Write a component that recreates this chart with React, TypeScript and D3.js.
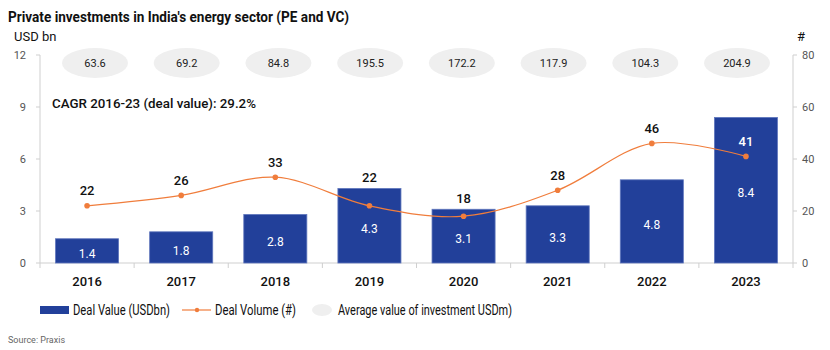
import React from 'react';
import * as d3 from 'd3';

const years = ['2016', '2017', '2018', '2019', '2020', '2021', '2022', '2023'];
const dealValue = [1.4, 1.8, 2.8, 4.3, 3.1, 3.3, 4.8, 8.4];
const dealVolume = [22, 26, 33, 22, 18, 28, 46, 41];
const avgValue = ['63.6', '69.2', '84.8', '195.5', '172.2', '117.9', '104.3', '204.9'];
const leftTicks = [0, 3, 6, 9, 12];
const rightTicks = [0, 20, 40, 60, 80];

const W = 830;
const H = 350;
const left = 40;
const right = 793;
const top = 55;
const bottom = 263;

const FONT = "'Roboto', sans-serif";

export default function App() {
  const x = d3.scaleBand().domain(years).range([left, right]).paddingInner(0.33).paddingOuter(0.165);
  const step = x.step();
  const yL = d3.scaleLinear().domain([0, 12]).range([bottom, top]);
  const yR = d3.scaleLinear().domain([0, 80]).range([bottom, top]);
  const xe = d3.scalePoint().domain(years).range([95, 737]);
  const cx = (d: string) => (x(d) as number) + x.bandwidth() / 2;

  const line = d3.line<number>()
    .x((_, i) => cx(years[i]))
    .y(v => yR(v))
    .curve(d3.curveCatmullRom.alpha(0.5));

  const boundaries = d3.range(years.length + 1).map(i => left + i * step);

  // keep volume labels clear of the bar tops
  const labelY = (i: number) => {
    const p = yR(dealVolume[i]) - 15;
    const barTop = yL(dealValue[i]);
    if (years[i] === '2023') return p;
    return Math.min(p, barTop - 11);
  };

  return (
    <svg width={W} height={H} style={{ position: 'absolute', left: 0, top: 0, fontFamily: FONT }}>
      <rect width={W} height={H} fill="#fff" />
      <text x={8} y={22} fontSize={15} fontWeight={700} fill="#111" textLength={341} lengthAdjust="spacingAndGlyphs">
        Private investments in India's energy sector (PE and VC)
      </text>
      <text x={14} y={41} fontSize={13} fill="#111">USD bn</text>
      <text x={797} y={41} fontSize={13} fill="#111">#</text>

      {/* ellipses: average value of investment */}
      {years.map((yr, i) => (
        <g key={'e' + yr}>
          <ellipse cx={xe(yr)} cy={63} rx={33} ry={15} fill="#efefef" />
          <text x={xe(yr)} y={63} dy="0.35em" textAnchor="middle" fontSize={11} fill="#222">{avgValue[i]}</text>
        </g>
      ))}

      <text x={52} y={108} fontSize={13} fontWeight={500} fill="#111" textLength={204} lengthAdjust="spacingAndGlyphs">
        CAGR 2016-23 (deal value): 29.2%
      </text>

      {/* axes */}
      <line x1={left} x2={left} y1={top} y2={bottom} stroke="#cfcfcf" />
      <line x1={right} x2={right} y1={top} y2={bottom} stroke="#cfcfcf" />
      <line x1={left} x2={right} y1={bottom} y2={bottom} stroke="#cfcfcf" />
      {leftTicks.map(t => (
        <g key={'l' + t}>
          <line x1={left - 4} x2={left} y1={yL(t)} y2={yL(t)} stroke="#cfcfcf" />
          <text x={26} y={yL(t)} dy="0.35em" textAnchor="end" fontSize={11} fill="#555">{t}</text>
        </g>
      ))}
      {rightTicks.map(t => (
        <g key={'r' + t}>
          <line x1={right} x2={right + 4} y1={yR(t)} y2={yR(t)} stroke="#cfcfcf" />
          <text x={802} y={yR(t)} dy="0.35em" fontSize={11} fill="#555">{t}</text>
        </g>
      ))}
      {boundaries.map((b, i) => (
        <line key={'b' + i} x1={b} x2={b} y1={bottom} y2={bottom + 5} stroke="#cfcfcf" />
      ))}

      {/* bars */}
      {years.map((yr, i) => (
        <g key={'bar' + yr}>
          <rect x={x(yr)} y={yL(dealValue[i])} width={x.bandwidth()} height={bottom - yL(dealValue[i])}
            fill="#22409a" stroke="#6077bd" strokeWidth={0.8} />
          <text x={cx(yr)} y={(yL(dealValue[i]) + bottom) / 2 + 3} dy="0.35em" textAnchor="middle" fontSize={12} fill="#fff">
            {dealValue[i]}
          </text>
          <text x={cx(yr)} y={281} dy="0.35em" textAnchor="middle" fontSize={13} fontWeight={500} fill="#111">{yr}</text>
        </g>
      ))}

      {/* deal volume line */}
      <path d={line(dealVolume) || ''} fill="none" stroke="#f07d3c" strokeWidth={1.2} />
      {years.map((yr, i) => (
        <g key={'p' + yr}>
          <circle cx={cx(yr)} cy={yR(dealVolume[i])} r={2.8} fill="#f07d3c" />
          <text x={cx(yr)} y={labelY(i)} dy="0.35em" textAnchor="middle" fontSize={13} fontWeight={500}
            fill={yr === '2023' ? '#fff' : '#111'}>{dealVolume[i]}</text>
        </g>
      ))}

      {/* legend */}
      <rect x={40} y={306} width={29} height={8} fill="#22409a" />
      <text x={73} y={310} dy="0.35em" fontSize={14} fill="#111" textLength={97} lengthAdjust="spacingAndGlyphs">Deal Value (USDbn)</text>
      <line x1={182} x2={211} y1={310} y2={310} stroke="#f07d3c" strokeWidth={1.2} />
      <circle cx={197} cy={310} r={2.2} fill="#f07d3c" />
      <text x={215} y={310} dy="0.35em" fontSize={14} fill="#111" textLength={81} lengthAdjust="spacingAndGlyphs">Deal Volume (#)</text>
      <ellipse cx={322} cy={310} rx={10} ry={6} fill="#efefef" />
      <text x={338} y={310} dy="0.35em" fontSize={14} fill="#111" textLength={174} lengthAdjust="spacingAndGlyphs">Average value of investment USDm)</text>

      <text x={8} y={340} dy="0.35em" fontSize={9} fill="#666">Source: Praxis</text>
    </svg>
  );
}
